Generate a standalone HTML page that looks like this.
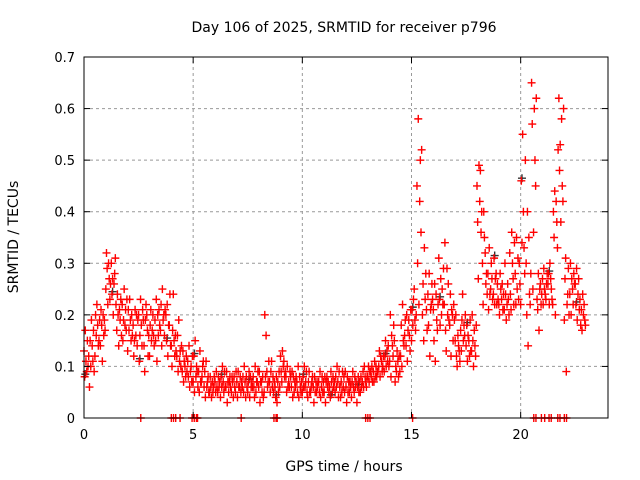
<!DOCTYPE html>
<html><head><meta charset="utf-8"><style>
body{margin:0;background:#fff}
svg{display:block;font-family:"DejaVu Sans","Liberation Sans",sans-serif}
</style></head><body>
<svg id="chart" width="640" height="480">
<rect x="0" y="0" width="640" height="480" fill="#fff"/>
<g id="grid"></g>
<g id="marks"></g>
<rect x="84" y="57" width="524" height="361" fill="none" stroke="#000" stroke-width="1"/>
<g id="axes"></g>
<text x="344" y="32" text-anchor="middle" font-size="14">Day 106 of 2025, SRMTID for receiver p796</text>
<text x="344" y="471" text-anchor="middle" font-size="14">GPS time / hours</text>
<text transform="translate(18,237) rotate(-90)" text-anchor="middle" font-size="14">SRMTID / TECUs</text>
</svg>
<script>
const xTicks=[0,5,10,15,20];
const yTicks=[0,0.1,0.2,0.3,0.4,0.5,0.6,0.7];
const yTickLabels=["0","0.1","0.2","0.3","0.4","0.5","0.6","0.7"];
const tStep=0.25;
const v1=[.13,.06,.12,.14,.25,.30,.17,.22,.13,.18,.20,.14,.12,.19,.17,.20,.14,.12,.09,.11,.07,.09,.06,.05,.07,.04,.06,.05,.07,.06,.05,.08,.06,.05,.07,.06,.12,.08,.06,.07,.05,.04,.06,.07,.05,.06,.05,.04,.06,.04,.03,.07,.08,.09,.10,.09,.11,.07,.12,.14,.15,.45,.20,.24,.21,.31,.22,.18,.15,.17,.14,.13,.45,.30,.28,.24,.22,.21,.32,.28,.22,.30,.65,.23,.27,.26,.40,.62,.19,.24,.26,.18];
const v2=[.08,.15,.20,.21,.32,.24,.24,.15,.21,.12,.11,.09,.18,.15,.22,.15,.10,.16,.13,.08,.12,.05,.09,.08,.05,.08,.09,.08,.04,.08,.07,.06,.09,.20,.05,.04,.09,.05,.09,.05,.08,.07,.03,.05,.08,.04,.08,.07,.03,.07,.06,.09,.10,.07,.13,.12,.20,.10,.18,.20,.21,.30,.26,.18,.15,.23,.34,.24,.20,.13,.18,.20,.38,.22,.21,.31,.20,.30,.24,.22,.46,.20,.57,.21,.22,.28,.35,.48,.27,.30,.22,.21];
const v3=[.17,.10,.16,.18,.29,.27,.20,.19,.17,.15,.16,.19,.21,.23,.14,.22,.17,.09,.07,.14,.05,.13,.04,.06,.09,.06,.03,.07,.09,.05,.09,.04,.03,.08,.09,.08,.07,.10,.04,.10,.06,.09,.08,.09,.03,.09,.06,.05,.08,.09,.08,.06,.07,.11,.08,.15,.08,.09,.10,.11,.18,.58,.15,.28,.26,.18,.17,.12,.12,.19,.11,.15,.27,.40,.33,.22,.28,.24,.21,.35,.34,.40,.25,.28,.29,.22,.44,.53,.31,.20,.29,.17];
const v4=[.11,.19,.22,.11,.22,.20,.14,.25,.23,.21,.23,.22,.15,.11,.25,.12,.24,.19,.11,.06,.15,.07,.11,.04,.06,.10,.07,.04,.06,.10,.04,.10,.07,.16,.11,.03,.13,.06,.08,.04,.10,.05,.05,.04,.07,.07,.10,.09,.05,.06,.05,.10,.09,.08,.12,.10,.16,.13,.22,.17,.23,.22,.33,.12,.11,.27,.13,.21,.10,.24,.16,.10,.49,.35,.24,.27,.25,.19,.36,.25,.55,.14,.36,.17,.25,.30,.20,.38,.09,.27,.19,.24];
const v5=[.09,.14,.18,.20,.30,.26,.21,.18,.19,.16,.18,.20,.17,.20,.19,.18,.15,.11,.10,.09,.08,.07,.06,.07,.05,.07,.05,.08,.06,.07,.08,.05,.07,.09,.06,.07,.10,.07,.05,.08,.06,.05,.07,.06,.08,.05,.07,.06,.07,.05,.07,.08,.09,.10,.11,.13,.14,.11,.15,.19,.25,.42,.23,.21,.24,.20,.29,.20,.16,.15,.15,.17,.42,.32,.25,.28,.23,.22,.30,.31,.40,.35,.60,.25,.24,.27,.42,.58,.22,.25,.24,.20];
const v6=[.15,.11,.14,.16,.27,.28,.19,.21,.15,.20,.14,.17,.20,.16,.20,.18,.12,.13,.08,.10,.10,.08,.07,.05,.08,.05,.07,.06,.08,.04,.06,.07,.05,.06,.08,.05,.11,.06,.07,.06,.07,.06,.05,.08,.06,.08,.04,.08,.05,.08,.05,.07,.08,.08,.09,.11,.12,.08,.14,.16,.19,.50,.28,.22,.19,.25,.20,.15,.14,.18,.12,.14,.48,.26,.30,.22,.26,.26,.27,.23,.33,.24,.50,.26,.23,.25,.38,.45,.24,.22,.27,.22];
const v7=[.10,.17,.15,.19,.23,.31,.23,.17,.20,.14,.21,.12,.16,.21,.16,.24,.16,.10,.12,.07,.09,.10,.08,.06,.06,.09,.08,.05,.05,.08,.07,.07,.08,.07,.05,.09,.08,.09,.06,.05,.09,.07,.06,.05,.07,.06,.09,.05,.07,.06,.08,.06,.10,.09,.10,.14,.18,.12,.16,.13,.17,.36,.21,.26,.17,.22,.26,.22,.13,.16,.19,.12,.36,.28,.27,.26,.21,.23,.22,.30,.28,.22,.45,.22,.26,.23,.33,.42,.29,.28,.21,.19];
const v8=[.12,.09,.19,.17,.26,.22,.16,.23,.16,.19,.19,.16,.14,.18,.21,.14,.13,.14,.09,.12,.06,.11,.05,.08,.07,.06,.06,.09,.07,.06,.06,.09,.04,.11,.07,.06,.09,.08,.08,.07,.05,.08,.07,.07,.05,.07,.06,.09,.06,.07,.06,.08,.07,.09,.12,.10,.15,.09,.19,.21,.20,.52,.17,.23,.22,.29,.19,.19,.11,.20,.13,.18,.40,.24,.23,.23,.24,.20,.34,.26,.50,.28,.62,.24,.28,.22,.52,.60,.20,.26,.23,.18];
const zeroHours=[2.6,4.0,4.1,4.2,4.4,4.95,5.05,5.15,5.2,7.2,8.7,8.8,8.85,12.9,13.0,13.1,15.05,20.6,20.7,20.95,21.1,21.3,21.4,21.7,21.8,22.0,22.1];

const NS="http://www.w3.org/2000/svg";
const X0=84,X1=608,Y0=418,Y1=57,XMAX=24,YMAX=0.7;
const xs=h=>X0+(X1-X0)*h/XMAX;
const ys=v=>Y0-(Y0-Y1)*v/YMAX;
const grid=document.getElementById('grid'),axes=document.getElementById('axes'),marks=document.getElementById('marks');
function mk(tag,attrs,parent){const e=document.createElementNS(NS,tag);for(const k in attrs)e.setAttribute(k,attrs[k]);parent.appendChild(e);return e;}
xTicks.forEach(t=>{
  const x=xs(t);
  if(t>0){const g=mk('line',{x1:x,x2:x,y1:Y0,y2:Y1,stroke:'#999','stroke-dasharray':'3,3'},grid);
  
  }
  mk('line',{x1:x,x2:x,y1:Y0,y2:Y0-6,stroke:'#000'},axes);
  mk('line',{x1:x,x2:x,y1:Y1,y2:Y1+6,stroke:'#000'},axes);
  const l=mk('text',{x:x,y:Y0+21,'text-anchor':'middle','font-size':'13'},axes);
  l.textContent=String(t);
  
  
});
yTicks.forEach((t,i)=>{
  const y=ys(t);
  if(i>0&&i<yTicks.length-1){const g=mk('line',{x1:X0,x2:X1,y1:y,y2:y,stroke:'#999','stroke-dasharray':'3,3'},grid);
  
  }
  mk('line',{x1:X0,x2:X0+6,y1:y,y2:y,stroke:'#000'},axes);
  mk('line',{x1:X1,x2:X1-6,y1:y,y2:y,stroke:'#000'},axes);
  const l=mk('text',{x:X0-9,y:y+5,'text-anchor':'end','font-size':'13'},axes);
  l.textContent=yTickLabels[i];
  
  
});
function plus(h,v,color){
  const x=xs(h),y=ys(v);
  const p=mk('path',{d:`M${x-4},${y}H${x+4}M${x},${y-4}V${y+4}`,stroke:color,'stroke-width':'1.4',fill:'none'},marks);
  
  
}
[v1,v2,v3,v4,v5,v6,v7,v8].forEach((arr,k)=>{
  const off=(k<4?0:0.125)+(k%4)*0.03;
  arr.forEach((v,i)=>{
    const h=i*tStep+off;
    if(k===1&&i%5===0)plus(h+0.03,v+0.005,'#333');
    plus(h,v,'#f00');
  });
});
zeroHours.forEach(h=>plus(h,0,'#f00'));
</script>
</body></html>
